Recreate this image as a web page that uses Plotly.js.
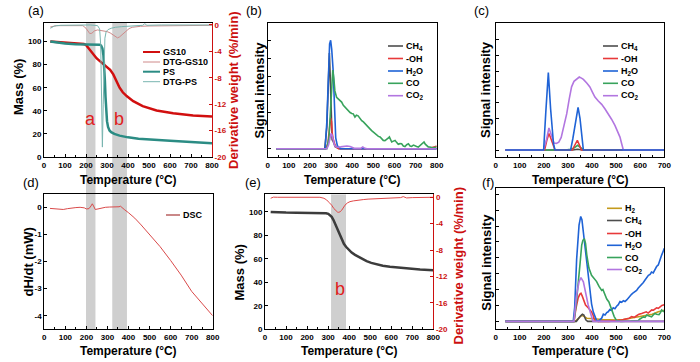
<!DOCTYPE html>
<html><head><meta charset="utf-8">
<script src="https://cdn.plot.ly/plotly-3.0.1.min.js"></script>
<style>html,body{margin:0;padding:0;background:#fff;}#chart{width:700px;height:362px;}</style>
</head><body><div id="chart"></div>
<script>
// ---------------- DATA ----------------
// (a) TG / DTG of GS10 and PS
const aTempGS10 = [30, 60, 100, 150, 190, 200, 210, 220, 235, 250, 266, 285, 300, 315, 330, 345, 360, 375, 395, 425, 470, 536, 615, 710, 800];
const aMassGS10 = [100, 99.6, 99, 98.3, 97.8, 97, 94.5, 92, 89, 85.5, 83, 80, 78, 75.5, 71.5, 65.5, 60, 56, 52.5, 48.3, 44, 40.3, 37.8, 36, 35];
const aTempPS = [30, 60, 100, 150, 200, 250, 265, 272, 278, 283, 287, 290, 293, 296, 300, 305, 312, 320, 335, 360, 400, 450, 500, 600, 700, 800];
const aMassPS = [100, 99.2, 98.2, 97.6, 97.4, 97.3, 97.2, 96.5, 94, 88, 78, 66, 52, 40, 31, 26, 23, 21.5, 20, 18.5, 17, 15.8, 15, 14, 13, 12];
const aTempDtgGS10 = [30, 60, 100, 150, 185, 200, 210, 218, 228, 240, 255, 270, 285, 300, 315, 330, 342, 350, 360, 375, 390, 405, 420, 440, 460, 500, 600, 700, 800];
const aDtgGS10 = [-0.3, -0.1, -0.1, -0.05, -0.1, -0.5, -1.0, -1.3, -1.25, -0.9, -0.75, -0.8, -0.9, -1.0, -1.2, -1.55, -1.9, -1.95, -1.8, -1.4, -0.9, -0.55, -0.35, -0.25, -0.2, -0.15, -0.1, -0.05, -0.05];
const aTempDtgPS = [30, 50, 80, 150, 220, 255, 265, 270, 274, 278, 282, 286, 290, 296, 305, 320, 340, 370, 420, 470, 480, 490, 560, 700, 800];
const aDtgPS = [-0.5, -0.15, -0.05, 0, 0, -0.1, -0.6, -3, -10, -18.5, -12, -5, -2, -1, -0.7, -0.5, -0.35, -0.25, -0.15, -0.05, 0.2, -0.05, 0, 0, 0];
const aBandStart = [200, 325];
const aBandEnd = [245, 395];

// (b) MS signals, PS
const bTempCH4 = [40, 270, 280, 286, 292, 296, 300, 305, 310, 320, 340, 800];
const bCH4 = [0, 0, 1.2, 3.5, 5.3, 4.0, 1.5, 0.5, 0.4, 0.1, 0, 0];
const bTempOH = [40, 275, 285, 292, 298, 302, 306, 312, 320, 335, 600, 760, 790, 800];
const bOH = [0, 0, 0.3, 1.0, 1.7, 1.5, 0.8, 0.45, 0.15, 0, 0, 0, 0.1, 0.15];
const bTempH2O = [40, 272, 280, 287, 293, 298, 303, 310, 316, 322, 330, 345, 800];
const bH2O = [0, 0, 1.5, 4.0, 5.8, 6.0, 5.5, 4.3, 2.0, 0.6, 0.15, 0, 0];
const bTempCO = [40, 280, 290, 298, 304, 308, 313, 318, 326, 334, 342, 350, 358, 366, 374, 382, 390, 398, 405, 413, 420, 428, 437, 445, 453, 460, 468, 476, 484, 492, 500, 508, 516, 524, 532, 540, 547, 555, 563, 570, 576, 582, 587, 595, 603, 610, 618, 626, 634, 642, 650, 658, 666, 674, 681, 690, 697, 705, 713, 721, 729, 735, 740, 746, 752, 760, 768, 776, 784, 792, 800];
const bCO = [0, 0, 0.6, 2.2, 3.6, 4.35, 3.9, 3.2, 2.85, 2.75, 2.7, 2.58, 2.4, 2.3, 2.15, 2.1, 2.0, 1.95, 1.93, 1.75, 1.85, 1.82, 1.65, 1.55, 1.48, 1.38, 1.3, 1.2, 1.1, 1.0, 0.92, 0.85, 0.74, 0.68, 0.65, 0.55, 0.46, 0.45, 0.5, 0.58, 0.65, 0.5, 0.37, 0.42, 0.46, 0.35, 0.24, 0.28, 0.27, 0.15, 0.12, 0.22, 0.27, 0.15, 0.13, 0.2, 0.18, 0.12, 0.09, 0.18, 0.24, 0.32, 0.37, 0.25, 0.18, 0.1, 0.09, 0.05, 0.04, 0.08, 0.09];
const bTempCO2 = [40, 280, 288, 294, 300, 305, 310, 316, 322, 330, 345, 360, 375, 390, 400, 410, 440, 450, 460, 470, 800];
const bCO2 = [0, 0, 0.2, 0.6, 0.85, 0.75, 0.4, 0.2, 0.1, 0.08, 0.1, 0.14, 0.15, 0.12, 0.05, 0.02, 0.02, 0.1, 0.02, 0, 0];

// (c) MS signals, second sample
const cTempCH4 = [40, 320, 340, 360, 700];
const cCH4 = [0, 0, 0.05, 0, 0];
const cTempOH = [40, 203, 212, 221, 230, 240, 246, 318, 328, 339, 348, 356, 700];
const cOH = [0, 0, 0.6, 1.05, 0.7, 0.2, 0, 0, 0.3, 0.62, 0.3, 0, 0];
const cTempH2O = [40, 199, 208, 218.5, 228, 240, 246, 311, 320, 332, 342, 350, 357, 364, 700];
const cH2O = [0, 0, 2.4, 4.9, 2.6, 0.4, 0, 0, 0.7, 1.9, 2.7, 2.0, 0.9, 0, 0];
const cTempCO = [40, 290, 310, 325, 333, 340, 347, 355, 365, 700];
const cCO = [0, 0, 0.05, 0.12, 0.22, 0.3, 0.22, 0.12, 0.02, 0];
const cTempCO2 = [40, 198, 210, 221, 232, 242, 252, 262, 272, 282, 295, 305, 315, 325, 336, 347, 356, 364, 378, 391, 402, 412, 426, 440, 454, 467, 481, 495, 506, 516, 523, 530, 700];
const cCO2 = [0, 0, 0.6, 1.4, 0.9, 0.45, 0.42, 0.5, 0.8, 1.4, 2.3, 3.2, 4.0, 4.35, 4.5, 4.62, 4.55, 4.47, 4.24, 3.99, 3.65, 3.35, 3.1, 2.89, 2.6, 2.3, 1.95, 1.56, 1.2, 0.82, 0.4, 0, 0];

// (d) DSC
const dTemp = [27, 45, 60, 75, 90, 110, 130, 150, 170, 190, 200, 212, 222, 228, 234, 242, 255, 270, 290, 310, 330, 345, 355, 362, 370, 380, 400, 430, 460, 500, 550, 600, 650, 700, 750, 800];
const dDSC = [-0.04, -0.05, -0.08, -0.09, -0.08, -0.05, -0.02, -0.01, 0, -0.02, -0.06, -0.05, 0.05, 0.13, 0.05, -0.08, -0.06, -0.03, 0, 0.01, 0.01, 0, 0.02, 0.04, -0.02, -0.08, -0.2, -0.4, -0.65, -1.0, -1.45, -1.96, -2.5, -3.1, -3.55, -4.0];

// (e) TG / DTG
const eTemp = [27, 60, 100, 150, 200, 250, 277, 290, 301, 310, 317, 325, 333, 341, 349, 357, 365, 375, 385, 398, 412, 428, 444, 463, 483, 505, 531, 560, 594, 630, 673, 737, 800];
const eMass = [100, 99.6, 99.4, 99.3, 99.3, 99.3, 99.2, 98.8, 98.3, 97.3, 95.8, 93.3, 90.1, 86.5, 83, 79.5, 75.9, 72.8, 70.3, 67.6, 65.4, 63.4, 61.8, 59.9, 58.1, 56.6, 55.2, 54.1, 53.3, 52.6, 51.8, 51, 50.4];
const eTempDtg = [27, 40, 60, 100, 150, 200, 261, 280, 293, 305, 317, 327, 337, 345, 350, 357, 365, 372, 380, 392, 404, 420, 436, 452, 467, 490, 520, 547, 580, 610, 626, 645, 657, 665, 673, 700, 740, 800];
const eDtg = [-0.15, 0.02, 0, 0, 0, 0, 0, -0.15, -0.4, -0.8, -1.2, -1.7, -2.05, -2.25, -2.28, -2.2, -1.95, -1.6, -1.2, -0.85, -0.66, -0.55, -0.45, -0.4, -0.35, -0.28, -0.22, -0.2, -0.15, -0.12, -0.12, -0.05, 0.1, -0.05, -0.1, -0.05, -0.05, 0];
const eBandStart = [314];
const eBandEnd = [385];

// (f) MS signals
const fTempH2 = [40, 330, 345, 357, 368, 378, 395, 412, 440, 470, 500, 530, 560, 590, 620, 650, 675, 700];
const fH2 = [0, 0, 0.2, 0.4, 0.3, 0.2, 0.18, 0.15, 0.12, 0.1, 0.08, 0.12, 0.2, 0.28, 0.35, 0.45, 0.6, 0.7];
const fTempCH4 = [40, 335, 350, 360, 366, 374, 382, 700];
const fCH4 = [0, 0, 0.3, 0.45, 0.4, 0.1, 0, 0];
const fTempOH = [40, 325, 333, 342, 349, 354, 359, 364, 373, 384, 391, 398, 404, 409, 415, 426, 470, 500, 523, 540, 555, 564, 575, 585, 595, 606, 615, 625, 633, 641, 648, 655, 661, 668, 675, 682, 690, 700];
const fOH = [0, 0, 0.8, 1.45, 1.7, 1.76, 1.6, 1.34, 1.03, 0.86, 0.75, 0.6, 0.4, 0.15, 0.02, 0, 0, 0.03, 0.08, 0.15, 0.2, 0.3, 0.25, 0.35, 0.45, 0.5, 0.55, 0.6, 0.52, 0.6, 0.72, 0.7, 0.8, 0.85, 0.82, 0.92, 1.0, 1.05];
const fTempH2O = [40, 322, 328, 336, 346, 353, 358, 364, 371, 378, 385, 391, 398, 405, 412, 419, 426, 433, 440, 447, 454, 461, 467, 474, 481, 488, 495, 502, 509, 516, 523, 530, 537, 544, 551, 557, 564, 571, 578, 585, 592, 599, 606, 613, 620, 627, 634, 641, 647, 654, 661, 668, 675, 682, 689, 695, 700];
const fH2O = [0, 0, 0.9, 3.9, 6.05, 6.6, 6.4, 5.6, 4.7, 3.75, 2.8, 1.9, 1.1, 0.6, 0.25, 0.05, 0, 0.1, 0.2, 0.45, 0.4, 0.55, 0.6, 0.75, 0.7, 0.85, 0.8, 0.95, 1.05, 1.25, 1.2, 1.3, 1.25, 1.35, 1.5, 1.6, 1.7, 1.8, 1.87, 1.95, 2.1, 2.2, 2.3, 2.45, 2.6, 2.75, 2.9, 2.95, 3.1, 3.05, 3.3, 3.45, 3.55, 3.8, 4.17, 4.4, 4.6];
const fTempCO = [40, 325, 335, 343, 350, 357, 362, 368, 373, 378, 387, 398, 409, 419, 429, 440, 445, 451, 456, 461, 470, 481, 492, 502, 520, 560, 592, 599, 606, 613, 620, 627, 634, 640, 647, 654, 661, 668, 678, 684, 689, 695, 700];
const fCO = [0, 0, 1.2, 2.3, 3.6, 4.8, 5.1, 5.2, 4.9, 4.2, 3.35, 2.9, 2.7, 2.5, 2.2, 1.95, 2.0, 1.75, 1.55, 1.4, 1.22, 0.72, 0.3, 0.05, 0, 0.02, 0.05, 0.15, 0.22, 0.28, 0.25, 0.4, 0.35, 0.3, 0.28, 0.4, 0.5, 0.45, 0.42, 0.55, 0.72, 0.65, 0.6];
const fTempCO2 = [40, 325, 330, 336, 346, 354, 364, 373, 384, 396, 404, 700];
const fCO2 = [0, 0, 0.8, 1.66, 2.49, 2.75, 2.49, 1.76, 1.03, 0.4, 0, 0];

// Labels
const panelLabels = ['(a)', '(b)', '(c)', '(d)', '(e)', '(f)'];
const legendA = ['GS10', 'DTG-GS10', 'PS', 'DTG-PS'];
const legendMS = ['CH<sub>4</sub>', '-OH', 'H<sub>2</sub>O', 'CO', 'CO<sub>2</sub>'];
const legendF = ['H<sub>2</sub>', 'CH<sub>4</sub>', '-OH', 'H<sub>2</sub>O', 'CO', 'CO<sub>2</sub>'];
const legendD = ['DSC'];
const xTitle = 'Temperature (°C)';
const massTitle = 'Mass (%)';
const derivTitle = 'Derivative weight (%/min)';
const signalTitle = 'Signal intensity';
const dscTitle = 'dH/dt (mW)';
const derivTicks = [0, -4, -8, -12, -16, -20];
const dscTicks = [0, -1, -2, -3, -4];

// ---------------- STYLE ----------------
const FONT = 'Liberation Sans, Arial, sans-serif';
const W = 700, H = 362;
const px = x => x / W;
const py = y => 1 - y / H;
const RED = '#cc1010';
const C = {GS10:'#d10f0f', DTGGS10:'#cf8a8a', PS:'#2b8c84', DTGPS:'#79b5b0',
  H2:'#c49a1c', CH4:'#4d4d4d', OH:'#e8393a', H2O:'#1f63d6', CO:'#38a35c', CO2:'#b276e0',
  DSC:'#d94a4a', EMASS:'#3c3c3c', EDTG:'#e04848'};
const tickFont = {family: FONT, size: 8, color: '#000', weight: 'bold'};

function xa(l, r, anchor, maxT) {
  return {domain:[px(l), px(r)], anchor:anchor, range:[0, maxT], tick0:0, dtick:100,
    showline:true, linecolor:'#000', linewidth:1, mirror:true,
    ticks:'inside', ticklen:3, tickwidth:1, tickcolor:'#000',
    minor:{ticks:'inside', ticklen:2, dtick:50, tick0:0, tickcolor:'#000', showgrid:false},
    showgrid:false, zeroline:false, tickfont:tickFont, fixedrange:true};
}
function ya(t, b, anchor, range, extra) {
  return Object.assign({domain:[py(b), py(t)], anchor:anchor, range:range,
    showline:true, linecolor:'#000', linewidth:1, mirror:true,
    ticks:'inside', ticklen:3, tickwidth:1, tickcolor:'#000',
    showgrid:false, zeroline:false, tickfont:tickFont, fixedrange:true}, extra || {});
}
function redAxis(overlay, anchor, range) {
  return {overlaying:overlay, side:'right', anchor:anchor, range:range,
    tickvals:derivTicks, ticktext:derivTicks.map(String),
    showline:true, linecolor:RED, linewidth:1, ticks:'inside', ticklen:3, tickcolor:RED,
    showgrid:false, zeroline:false, fixedrange:true,
    tickfont:{family:FONT, size:8, color:RED, weight:'bold'}};
}

function tr(x, y, xa_, ya_, color, width) {
  return {x:x, y:y, xaxis:xa_, yaxis:ya_, type:'scatter', mode:'lines',
    line:{color:color, width:width}, showlegend:false, hoverinfo:'skip'};
}

const traces = [
  // (a)
  tr(aTempGS10, aMassGS10, 'x', 'y', C.GS10, 2.5),
  tr(aTempDtgGS10, aDtgGS10, 'x', 'y2', C.DTGGS10, 1),
  tr(aTempPS, aMassPS, 'x', 'y', C.PS, 2.5),
  tr(aTempDtgPS, aDtgPS, 'x', 'y2', C.DTGPS, 1),
  // (b)
  tr(bTempCH4, bCH4, 'x2', 'y3', C.CH4, 1.6),
  tr(bTempOH, bOH, 'x2', 'y3', C.OH, 1.6),
  tr(bTempH2O, bH2O, 'x2', 'y3', C.H2O, 1.6),
  tr(bTempCO, bCO, 'x2', 'y3', C.CO, 1.6),
  tr(bTempCO2, bCO2, 'x2', 'y3', C.CO2, 1.6),
  // (c)
  tr(cTempCH4, cCH4, 'x3', 'y4', C.CH4, 1.6),
  tr(cTempCO, cCO, 'x3', 'y4', C.CO, 1.6),
  tr(cTempOH, cOH, 'x3', 'y4', C.OH, 1.6),
  tr(cTempCO2, cCO2, 'x3', 'y4', C.CO2, 1.6),
  tr(cTempH2O, cH2O, 'x3', 'y4', C.H2O, 1.6),
  // (d)
  tr(dTemp, dDSC, 'x4', 'y5', C.DSC, 1),
  // (e)
  tr(eTemp, eMass, 'x5', 'y6', C.EMASS, 2.5),
  tr(eTempDtg, eDtg, 'x5', 'y7', C.EDTG, 1),
  // (f)
  tr(fTempH2, fH2, 'x6', 'y8', C.H2, 1.6),
  tr(fTempCH4, fCH4, 'x6', 'y8', C.CH4, 1.6),
  tr(fTempOH, fOH, 'x6', 'y8', C.OH, 1.6),
  tr(fTempH2O, fH2O, 'x6', 'y8', C.H2O, 1.6),
  tr(fTempCO, fCO, 'x6', 'y8', C.CO, 1.6),
  tr(fTempCO2, fCO2, 'x6', 'y8', C.CO2, 1.6)
];

// ---------------- SHAPES ----------------
const shapes = [];
const BAND = '#cfcfcf';
aBandStart.forEach((s, i) => shapes.push({type:'rect', layer:'below', xref:'x', yref:'paper',
  x0:s, x1:aBandEnd[i], y0:py(329.3), y1:py(23), fillcolor:BAND, line:{width:0}}));
eBandStart.forEach((s, i) => shapes.push({type:'rect', layer:'below', xref:'x5', yref:'y6',
  x0:s, x1:eBandEnd[i], y0:0, y1:115, fillcolor:BAND, line:{width:0}}));

const annotations = [];
function ann(text, x, y, o) {
  annotations.push(Object.assign({text:text, xref:'paper', yref:'paper', x:px(x), y:py(y),
    showarrow:false, xanchor:'center', yanchor:'middle',
    font:{family:FONT, size:12, color:'#000'}}, o || {}));
}
function legend(names, colors, widths, x0, x1, ys, tx) {
  names.forEach((n, i) => {
    shapes.push({type:'line', xref:'paper', yref:'paper', x0:px(x0), x1:px(x1), y0:py(ys[i]), y1:py(ys[i]),
      line:{color:colors[i], width:widths[i]}});
    ann(n, tx, ys[i], {xanchor:'left', font:{family:FONT, size:9, color:'#000', weight:'bold'}});
  });
}
legend(legendA, [C.GS10, C.DTGGS10, C.PS, C.DTGPS], [2, 1, 2, 1], 143, 160, [52, 62, 71.7, 81.7], 160.5);
const msCols = [C.CH4, C.OH, C.H2O, C.CO, C.CO2];
legend(legendMS, msCols, [1.6,1.6,1.6,1.6,1.6], 388, 403, [46, 58.5, 71, 83.3, 95.7], 403.5);
legend(legendMS, msCols, [1.6,1.6,1.6,1.6,1.6], 603, 618, [46, 58.5, 71, 83.3, 95.7], 618.5);
legend(legendD, ['#b86060'], [1.5], 166, 180, [215], 180.5);
legend(legendF, [C.H2, C.CH4, C.OH, C.H2O, C.CO, C.CO2], [1.6,1.6,1.6,1.6,1.6,1.6], 607, 622, [208.3, 220.5, 233.5, 245.3, 257.5, 269.5], 622.5);

// panel labels
[[36,10],[254.5,10],[481,10],[31,182],[253,182],[487.5,182]].forEach((p, i) =>
  ann(panelLabels[i], p[0], p[1], {font:{family:FONT, size:13, color:'#000'}}));

// axis titles
const tf = {family:FONT, size:12, color:'#000', weight:'bold'};
const vf = {family:FONT, size:13, color:'#000', weight:'bold'};
const rf = {family:FONT, size:13, color:RED, weight:'bold'};
[[128,180],[352,180],[580,180],[128,351],[349,351],[580,351]].forEach(p => ann(xTitle, p[0], p[1], {font:tf}));
ann(massTitle, 18, 87, {textangle:-90, font:vf});
ann(derivTitle, 233, 91, {textangle:-90, font:rf});
ann(signalTitle, 258.5, 90, {textangle:-90, font:vf});
ann(signalTitle, 485, 90, {textangle:-90, font:vf});
ann(dscTitle, 27.5, 262, {textangle:-90, font:vf});
ann(massTitle, 238.5, 272, {textangle:-90, font:vf});
ann(derivTitle, 457.5, 266, {textangle:-90, font:rf});
ann(signalTitle, 485.7, 262, {textangle:-90, font:vf});

// in-plot region letters (data-referenced)
const letterFont = {family:FONT, size:18, color:'#e02020'};
annotations.push({text:'a', xref:'x', yref:'y', x:222, y:33, showarrow:false, font:letterFont});
annotations.push({text:'b', xref:'x', yref:'y', x:357, y:33, showarrow:false, font:letterFont});
annotations.push({text:'b', xref:'x5', yref:'y6', x:355, y:34, showarrow:false, font:letterFont});

const layout = {
  width:W, height:H, margin:{l:0, r:0, t:0, b:0, pad:0},
  paper_bgcolor:'#ffffff', plot_bgcolor:'rgba(0,0,0,0)', showlegend:false,
  font:{family:FONT},
  xaxis: xa(44, 212, 'y', 800),
  yaxis: ya(23, 157, 'x', [0, 116], {dtick:20, tick0:0, mirror:false}),
  yaxis2: redAxis('y', 'x', [-20, 0.3]),
  xaxis2: xa(267.7, 436.7, 'y3', 800),
  yaxis3: ya(23, 157, 'x2', [-0.46, 6.96], {dtick:1, tick0:0, showticklabels:false}),
  xaxis3: xa(495.7, 664.3, 'y4', 700),
  yaxis4: ya(23, 157, 'x3', [-0.44, 8.04], {dtick:1, tick0:0, showticklabels:false}),
  xaxis4: xa(44.3, 212.7, 'y5', 800),
  yaxis5: ya(194.3, 329.3, 'x4', [-4.5, 0.48], {tickvals:dscTicks, ticktext:dscTicks.map(String)}),
  xaxis5: xa(265, 433.3, 'y6', 800),
  yaxis6: ya(194.3, 329.3, 'x5', [0, 115], {dtick:20, tick0:0, mirror:false}),
  yaxis7: redAxis('y6', 'x5', [-20, 0.45]),
  xaxis6: xa(495.7, 664.3, 'y8', 700),
  yaxis8: ya(187.7, 329.3, 'x6', [-0.5, 8.41], {dtick:1, tick0:0, showticklabels:false}),
  shapes:shapes, annotations:annotations
};

Plotly.newPlot('chart', traces, layout, {staticPlot:true, displayModeBar:false});
</script></body></html>
